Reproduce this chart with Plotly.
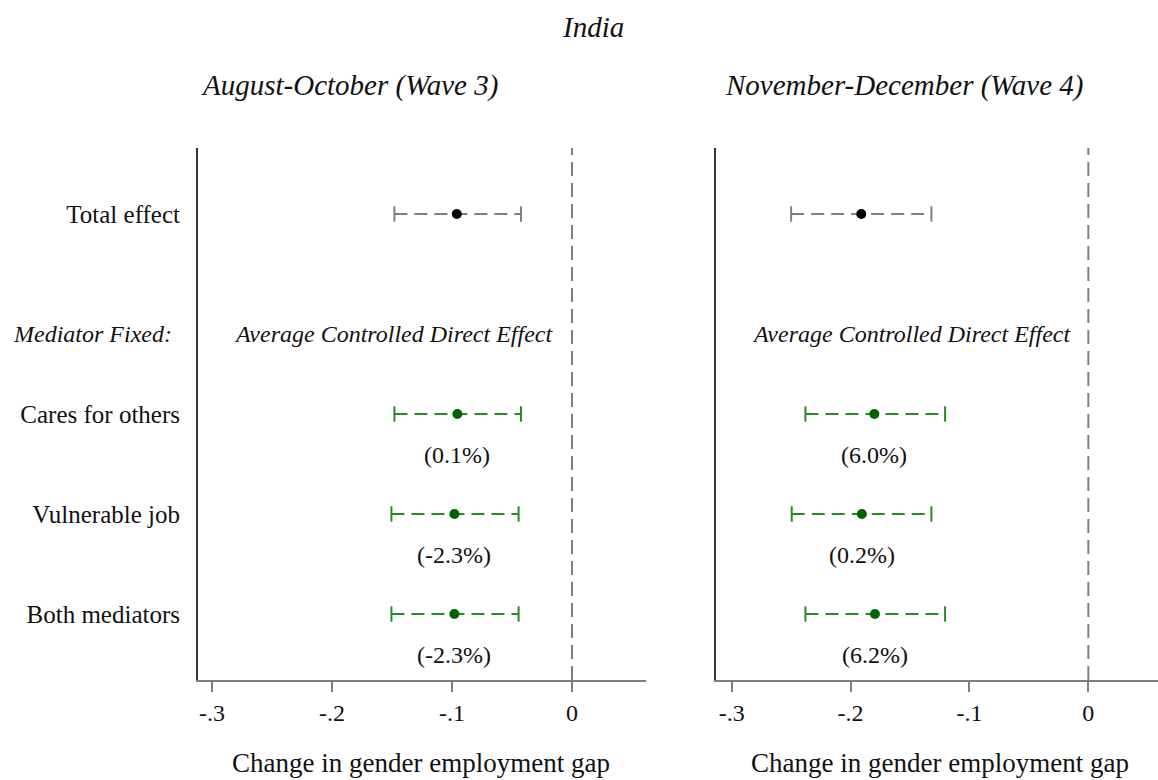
import plotly.graph_objects as go

# ---------------- data ----------------
rows = ["Total effect", "Cares for others", "Vulnerable job", "Both mediators"]
row_pos = [0, 2, 3, 4]
panel_titles = ["August-October (Wave 3)", "November-December (Wave 4)"]
x_tickvals = [-0.3, -0.2, -0.1, 0]
x_ticktext = ["-.3", "-.2", "-.1", "0"]

wave3_est = [-0.096, -0.0955, -0.098, -0.098]
wave3_lo = [-0.148, -0.148, -0.1505, -0.1505]
wave3_hi = [-0.0425, -0.0425, -0.0445, -0.0445]
wave3_pct = [None, "(0.1%)", "(-2.3%)", "(-2.3%)"]

wave4_est = [-0.191, -0.180, -0.1905, -0.1795]
wave4_lo = [-0.250, -0.238, -0.2495, -0.238]
wave4_hi = [-0.132, -0.1205, -0.132, -0.1205]
wave4_pct = [None, "(6.0%)", "(0.2%)", "(6.2%)"]

panels = [
    (wave3_est, wave3_lo, wave3_hi, wave3_pct),
    (wave4_est, wave4_lo, wave4_hi, wave4_pct),
]

# ---------------- style ----------------
W, H = 1158, 780
FONT = "Liberation Serif, Times New Roman, serif"
TXT = "#111111"
GRAY_LINE = "#7f7f7f"
GREEN_LINE = "#2a8a2a"
GREEN_DOT = "#006400"

fig = go.Figure()

for p, (est, lo, hi, pct) in enumerate(panels):
    xa = "x" if p == 0 else "x2"
    ya = "y" if p == 0 else "y2"
    for i in range(len(rows)):
        is_total = i == 0
        lc = GRAY_LINE if is_total else GREEN_LINE
        dc = "#000000" if is_total else GREEN_DOT
        y = row_pos[i]
        # dashed CI line
        fig.add_trace(go.Scatter(
            x=[lo[i], hi[i]], y=[y, y], mode="lines",
            line=dict(color=lc, width=2, dash="13px,7px"),
            xaxis=xa, yaxis=ya, showlegend=False, hoverinfo="skip"))
        # caps
        fig.add_trace(go.Scatter(
            x=[lo[i], hi[i]], y=[y, y], mode="markers",
            marker=dict(symbol="line-ns", size=11,
                        line=dict(color=lc, width=2)),
            xaxis=xa, yaxis=ya, showlegend=False, hoverinfo="skip"))
        # point estimate
        fig.add_trace(go.Scatter(
            x=[est[i]], y=[y], mode="markers",
            marker=dict(symbol="circle", size=10, color=dc),
            xaxis=xa, yaxis=ya, showlegend=False))
        if pct[i]:
            fig.add_annotation(
                x=est[i], y=y + 0.41, xref=xa, yref=ya, text=pct[i],
                showarrow=False, font=dict(family=FONT, size=24, color=TXT),
                xanchor="center", yanchor="middle")
    # zero reference line
    fig.add_shape(type="line", x0=0, x1=0, y0=0, y1=1,
                  xref=xa, yref=ya + " domain",
                  line=dict(color=GRAY_LINE, width=2, dash="14px,7px"),
                  layer="below")
    # "Average Controlled Direct Effect"
    fig.add_annotation(
        x=-0.149, y=1.2, xref=xa, yref=ya,
        text="<i>Average Controlled Direct Effect</i>", showarrow=False,
        font=dict(family=FONT, size=24, color=TXT),
        xanchor="center", yanchor="middle")

x_range1 = [-0.3117, 0.0617]
x_range2 = [-0.3132, 0.0586]
y_range = [4.66, -0.66]
ydom = [1 - 680 / H, 1 - 148 / H]
xdom1 = [198 / W, 646 / W]
xdom2 = [716 / W, 1.0]

xaxis_common = dict(
    tickvals=x_tickvals, ticktext=x_ticktext,
    showline=True, linecolor=GRAY_LINE, linewidth=2,
    ticks="outside", ticklen=10, tickwidth=2, tickcolor=GRAY_LINE,
    showgrid=False, zeroline=False, ticklabelstandoff=0,
    tickfont=dict(family=FONT, size=24, color=TXT), fixedrange=True)

yaxis_common = dict(
    range=y_range, showline=True, linecolor="#333333", linewidth=2,
    showgrid=False, zeroline=False, ticks="", fixedrange=True)

fig.update_layout(
    width=W, height=H, margin=dict(l=0, r=0, t=0, b=0),
    paper_bgcolor="white", plot_bgcolor="white",
    font=dict(family=FONT, color=TXT),
    xaxis=dict(domain=xdom1, anchor="y", range=x_range1, **xaxis_common),
    xaxis2=dict(domain=xdom2, anchor="y2", range=x_range2, **xaxis_common),
    yaxis=dict(domain=ydom, anchor="x", tickvals=row_pos, ticktext=rows,
               tickfont=dict(family=FONT, size=25, color=TXT),
               ticklabelstandoff=11, **yaxis_common),
    yaxis2=dict(domain=ydom, anchor="x2", showticklabels=False, **yaxis_common),
)

# titles
fig.add_annotation(x=593 / W, y=1 - 27 / H, xref="paper", yref="paper",
                   text="<i>India</i>", showarrow=False,
                   font=dict(family=FONT, size=29, color=TXT),
                   xanchor="center", yanchor="middle")
for cx, t in zip([349, 904], panel_titles):
    fig.add_annotation(x=cx / W, y=1 - 85 / H, xref="paper", yref="paper",
                       text="<i>" + t + "</i>", showarrow=False,
                       font=dict(family=FONT, size=29, color=TXT),
                       xanchor="center", yanchor="middle")
for cx in [421, 940]:
    fig.add_annotation(x=cx / W, y=1 - 763 / H, xref="paper", yref="paper",
                       text="Change in gender employment gap", showarrow=False,
                       font=dict(family=FONT, size=27, color=TXT),
                       xanchor="center", yanchor="middle")
fig.add_annotation(x=174 / W, y=1 - 334 / H, xref="paper", yref="paper",
                   text="<i>Mediator Fixed:</i>", showarrow=False,
                   font=dict(family=FONT, size=24, color=TXT),
                   xanchor="right", yanchor="middle")

fig.write_html("out.html", config={"displayModeBar": False},
               post_script="document.body.style.margin='0';")
